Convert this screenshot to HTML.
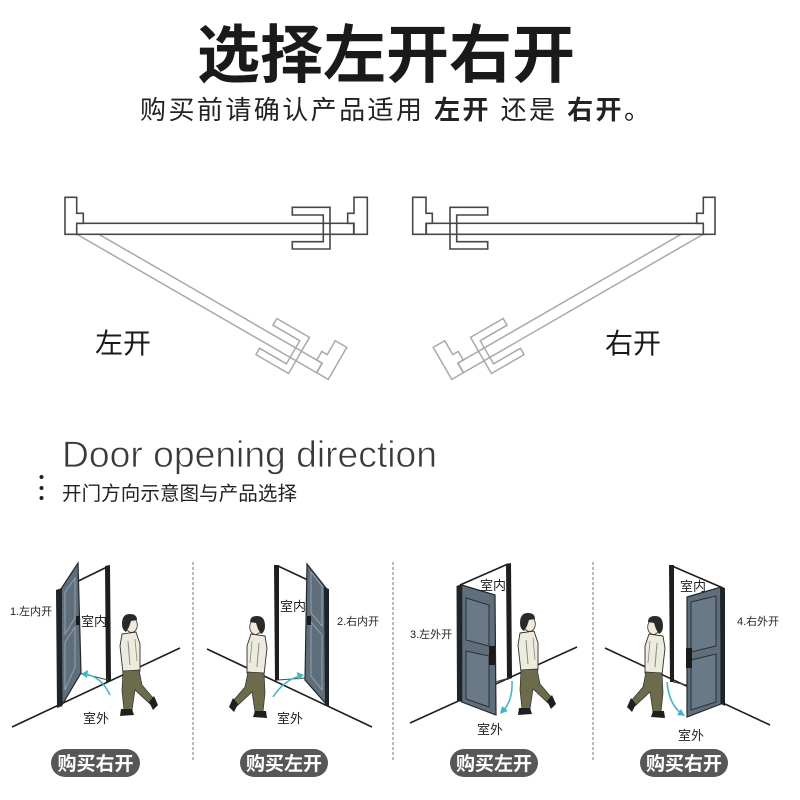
<!DOCTYPE html>
<html>
<head>
<meta charset="utf-8">
<style>
  html,body{margin:0;padding:0;background:#fff;}
  body{width:800px;height:800px;overflow:hidden;}
  svg{display:block;}
  text{font-family:"Liberation Sans","Noto Sans CJK SC",sans-serif;}
</style>
</head>
<body>
<svg width="800" height="800" viewBox="0 0 800 800" xmlns="http://www.w3.org/2000/svg">
  <defs>
    <g id="person">
      <polygon points="2,21 16,19 20,31 20,58 3,60 0,33" fill="#ecebdd" stroke="#2e2e2e" stroke-width="0.9"/>
      <path d="M8,28 L10,52" stroke="#8a8a80" stroke-width="1" fill="none"/>
      <path d="M15,26 L17,48" stroke="#8a8a80" stroke-width="0.8" fill="none"/>
      <polygon points="3,58 19,57 22,72 34,86 30,91 15,77 12,97 4,97 2,78" fill="#6c6b4b" stroke="#2e2e2e" stroke-width="0.7"/>
      <polygon points="1,96 12,96 14,102 0,103" fill="#1f1f1f"/>
      <polygon points="29,89 34,83 38,92 33,97" fill="#1f1f1f"/>
      <ellipse cx="11.5" cy="12" rx="5.8" ry="7.5" fill="#f3e8da" stroke="#2e2e2e" stroke-width="0.8"/>
      <path d="M2,11 Q2,1 10,1 Q17,1 17,7 L11,8 L9,14 L6,19 Q2,17 2,11 Z" fill="#2a2a2a"/>
    </g>
  </defs>

  <!-- Title -->
  <text x="197" y="77" font-size="63" font-weight="700" fill="#1a1a1a">选择左开右开</text>
  <text x="140" y="119" font-size="26" fill="#222" textLength="510" lengthAdjust="spacing">购买前请确认产品适用 <tspan font-weight="700">左开</tspan> 还是 <tspan font-weight="700">右开</tspan>。</text>

  <!-- Left plan -->
  <g id="plan">
    <g fill="none" stroke="#a9a9a9" stroke-width="1.5" transform="rotate(30 77 234)">
      <rect x="76.7" y="223.3" width="277" height="11"/>
      <polygon points="367.3,197.3 354,197.3 354,213.3 347.7,213.3 347.7,223.3 354,223.3 354,234.3 367.3,234.3"/>
      <polygon points="292.3,207.3 330,207.3 330,249 292.3,249 292.3,241.7 323.3,241.7 323.3,215 292.3,215"/>
    </g>
    <g stroke="#474747" stroke-width="1.6">
      <rect x="76.7" y="223.3" width="277" height="11" fill="#fff"/>
      <polygon fill="#fff" points="65,197.3 76.7,197.3 76.7,213.3 83.3,213.3 83.3,223.3 76.7,223.3 76.7,234.3 65,234.3"/>
      <polygon fill="#fff" points="367.3,197.3 354,197.3 354,213.3 347.7,213.3 347.7,223.3 354,223.3 354,234.3 367.3,234.3"/>
      <polygon fill="none" points="292.3,207.3 330,207.3 330,249 292.3,249 292.3,241.7 323.3,241.7 323.3,215 292.3,215"/>
    </g>
  </g>
  <use href="#plan" transform="translate(780,0) scale(-1,1)"/>

  <text x="95" y="353" font-size="28" fill="#1a1a1a">左开</text>
  <text x="605" y="353" font-size="28" fill="#1a1a1a">右开</text>

  <!-- Door opening direction -->
  <text x="62" y="467" font-size="37" fill="#3a3a3a" stroke="#fff" stroke-width="0.7" textLength="375" lengthAdjust="spacingAndGlyphs">Door opening direction</text>
  <circle cx="41.5" cy="477" r="2" fill="#222"/>
  <circle cx="41.5" cy="488" r="2" fill="#222"/>
  <circle cx="41.5" cy="498" r="2" fill="#222"/>
  <text x="62" y="500" font-size="19.5" fill="#222" textLength="235" lengthAdjust="spacing">开门方向示意图与产品选择</text>

  <!-- dividers -->
  <g stroke="#777" stroke-width="1" stroke-dasharray="3,2">
    <line x1="193" y1="562" x2="193" y2="762"/>
    <line x1="393" y1="562" x2="393" y2="762"/>
    <line x1="593" y1="562" x2="593" y2="762"/>
  </g>

  <!-- Panel 1 -->
  <line x1="12" y1="727" x2="180" y2="648" stroke="#1e1e1e" stroke-width="1.6"/>
  <line x1="62" y1="589" x2="107" y2="567" stroke="#1e1e1e" stroke-width="1.6"/>
  <polygon points="105,566 110,565 111,680 106,682" fill="#1e1e1e"/>
  <line x1="80" y1="673" x2="108" y2="680" stroke="#444" stroke-width="1"/>
  <polygon points="61,589 78,563 81,673 62,705" fill="#5f6e7b" stroke="#22272b" stroke-width="1.2"/>
  <polygon points="56,590 62,588 62,706 57,708" fill="#1f2428"/>
  <polygon points="65,592 75,578 75,618 65,634" fill="none" stroke="#9aa6b1" stroke-width="0.9"/>
  <polygon points="65,642 75,627 75,667 65,690" fill="none" stroke="#9aa6b1" stroke-width="0.9"/>
  <rect x="76" y="616" width="4" height="9" fill="#1b1b1b"/>
  <path d="M84,674 Q101,676 110,695" fill="none" stroke="#44b5c6" stroke-width="1.6"/>
  <polygon points="81,674 88,670 87,678" fill="#44b5c6"/>
  <text x="10" y="615" font-size="11" fill="#222">1.左内开</text>
  <text x="81" y="626" font-size="13" fill="#222">室内</text>
  <text x="83" y="723" font-size="13" fill="#222">室外</text>
  <use href="#person" transform="translate(120,613)"/>

  <!-- Panel 2 -->
  <line x1="207" y1="649" x2="372" y2="727" stroke="#1e1e1e" stroke-width="1.6"/>
  <polygon points="274,565 279,565 279,680 275,681" fill="#1e1e1e"/>
  <line x1="278" y1="566" x2="310" y2="581" stroke="#1e1e1e" stroke-width="1.6"/>
  <line x1="278" y1="680" x2="305" y2="678" stroke="#444" stroke-width="1"/>
  <polygon points="307,564 326,588 327,705 305,680" fill="#5f6e7b" stroke="#22272b" stroke-width="1.2"/>
  <polygon points="324,587 329,589 329,707 325,705" fill="#1f2428"/>
  <polygon points="311,572 322,586 322,626 311,613" fill="none" stroke="#9aa6b1" stroke-width="0.9"/>
  <polygon points="311,622 322,635 322,690 311,676" fill="none" stroke="#9aa6b1" stroke-width="0.9"/>
  <rect x="307" y="616" width="4" height="9" fill="#1b1b1b"/>
  <path d="M273,697 Q284,680 300,676" fill="none" stroke="#44b5c6" stroke-width="1.6"/>
  <polygon points="304,675 297,672 298,680" fill="#44b5c6"/>
  <text x="280" y="611" font-size="13" fill="#222">室内</text>
  <text x="337" y="625" font-size="11" fill="#222">2.右内开</text>
  <text x="277" y="723" font-size="13" fill="#222">室外</text>
  <use href="#person" transform="translate(267,615) scale(-1,1)"/>

  <!-- Panel 3 -->
  <line x1="410" y1="723" x2="577" y2="647" stroke="#1e1e1e" stroke-width="1.6"/>
  <line x1="460" y1="585" x2="508" y2="564" stroke="#1e1e1e" stroke-width="1.6"/>
  <polygon points="506,564 511,563 512,678 507,680" fill="#1e1e1e"/>
  <line x1="495" y1="682" x2="509" y2="678" stroke="#444" stroke-width="1"/>
  <polygon points="461.7,585 495,595 496,715 461.7,702" fill="#5f6e7b" stroke="#22272b" stroke-width="1.2"/>
  <polygon points="456.5,586 462,584 462,702 457,701" fill="#1f2428"/>
  <polygon points="466,598 489,605 489,646 466,640" fill="#6a7987" stroke="#2a3035" stroke-width="1"/>
  <polygon points="466,651 489,656 489,707 466,699" fill="#6a7987" stroke="#2a3035" stroke-width="1"/>
  <rect x="489" y="646" width="6" height="19" fill="#1b1b1b"/>
  <path d="M512,681 Q513,700 503,711" fill="none" stroke="#44b5c6" stroke-width="1.6"/>
  <polygon points="500,714 502,706 508,711" fill="#44b5c6"/>
  <text x="480" y="590" font-size="13" fill="#222">室内</text>
  <text x="410" y="638" font-size="11" fill="#222">3.左外开</text>
  <text x="477" y="734" font-size="13" fill="#222">室外</text>
  <use href="#person" transform="translate(518,612)"/>

  <!-- Panel 4 -->
  <line x1="605" y1="648" x2="770" y2="725" stroke="#1e1e1e" stroke-width="1.6"/>
  <polygon points="669,565 674,565 674,682 670,682" fill="#1e1e1e"/>
  <line x1="672" y1="566" x2="723" y2="588" stroke="#1e1e1e" stroke-width="1.6"/>
  <line x1="673" y1="682" x2="687" y2="685" stroke="#444" stroke-width="1"/>
  <polygon points="687,597 721,587 721,704 687,717" fill="#5f6e7b" stroke="#22272b" stroke-width="1.2"/>
  <polygon points="720,587 725,588 725,706 721,704" fill="#1f2428"/>
  <polygon points="691,602 716,596 716,646 691,652" fill="#6a7987" stroke="#2a3035" stroke-width="1"/>
  <polygon points="691,660 716,654 716,702 691,710" fill="#6a7987" stroke="#2a3035" stroke-width="1"/>
  <rect x="686" y="648" width="6" height="20" fill="#1b1b1b"/>
  <path d="M667,682 Q669,704 681,713" fill="none" stroke="#44b5c6" stroke-width="1.6"/>
  <polygon points="685,716 677,715 681,709" fill="#44b5c6"/>
  <text x="680" y="591" font-size="13" fill="#222">室内</text>
  <text x="737" y="625" font-size="11" fill="#222">4.右外开</text>
  <text x="678" y="740" font-size="13" fill="#222">室外</text>
  <use href="#person" transform="translate(665,615) scale(-1,1)"/>

  <!-- Pills -->
  <g font-size="19" font-weight="700" fill="#fff" text-anchor="middle">
    <rect x="51" y="749" width="89" height="28" rx="14" fill="#575757"/>
    <text x="95.5" y="770">购买右开</text>
    <rect x="240" y="749" width="88" height="28" rx="14" fill="#575757"/>
    <text x="284" y="770">购买左开</text>
    <rect x="450" y="749" width="88" height="28" rx="14" fill="#575757"/>
    <text x="494" y="770">购买左开</text>
    <rect x="640" y="749" width="88" height="28" rx="14" fill="#575757"/>
    <text x="684" y="770">购买右开</text>
  </g>
</svg>
</body>
</html>
